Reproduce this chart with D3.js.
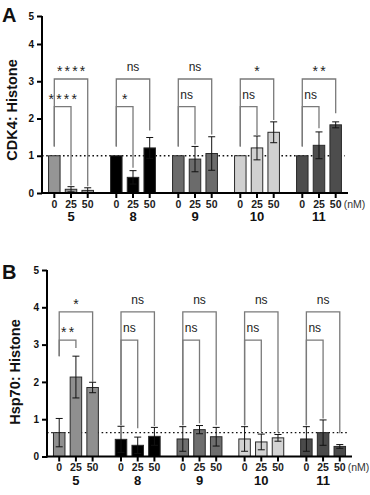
<!DOCTYPE html>
<html>
<head>
<meta charset="utf-8">
<script src="https://cdn.jsdelivr.net/npm/d3@7"></script>
<style>
	body { margin: 0; background: #fff; }
	svg { display: block; font-family: "Liberation Sans", Arial, sans-serif; }
</style>
</head>
<body>
<div id="chart"></div>
<script>
var width = 370,
	height = 495;

// categories
var groups = ["5", "8", "9", "10", "11"];
var doses = ["0", "25", "50"];
var yTicks = [0, 1, 2, 3, 4, 5];

// panel A: CDK4 / Histone (mean, error) per group x dose
var cdk4Mean = [[1, 0.10, 0.07], [1, 0.42, 1.21], [1, 0.91, 1.06], [1, 1.21, 1.63], [1, 1.28, 1.83]];
var cdk4Err = [[0, 0.07, 0.07], [0, 0.18, 0.28], [0, 0.34, 0.45], [0, 0.32, 0.28], [0, 0.36, 0.08]];
// significance: [0 vs 25, 0 vs 50]
var cdk4Sig = [["****", "****"], ["*", "ns"], ["ns", "ns"], ["ns", "*"], ["ns", "**"]];
// bracket leg ends: [0 leg, 25 leg, 50 leg]
var cdk4Legs = [[1.25, 0.2, 0.18], [1.25, 0.68, 1.68], [1.25, 1.3, 1.57], [1.25, 1.56, 1.96], [1.25, 1.74, 2.14]];
var cdk4Levels = [2.32, 3.06];
var cdk4Ref = 1;

// panel B: Hsp70 / Histone
var hspMean = [[0.64, 2.13, 1.85], [0.46, 0.30, 0.54], [0.47, 0.72, 0.53], [0.47, 0.39, 0.50], [0.47, 0.64, 0.27]];
var hspErr = [[0.38, 0.56, 0.14], [0.35, 0.22, 0.24], [0.33, 0.11, 0.25], [0.33, 0.21, 0.09], [0.33, 0.34, 0.05]];
var hspSig = [["**", "*"], ["ns", "ns"], ["ns", "ns"], ["ns", "ns"], ["ns", "ns"]];
var hspLegs = [[2.69, 2.91, 2.0], [0.84, 0.76, 0.82], [0.84, 0.89, 0.84], [0.84, 0.66, 0.64], [0.84, 1.02, 0.62]];
var hspLevels = [3.12, 3.88];
var hspRef = 0.64;

// bar colours per group
var colorsA = ["#959595", "#000000", "#6b6b6b", "#d0d0d0", "#4d4d4d"];
var colorsB = ["#8f8f8f", "#000000", "#6e6e6e", "#d3d3d3", "#4a4a4a"];

var svg = d3.select("#chart")
	.append("svg")
	.attr("width", width)
	.attr("height", height);

function drawPanel(p) {
	var g = svg.append("g");

	var y = d3.scaleLinear().domain(p.yDomain).range(p.yRange);
	var x0 = d3.scalePoint().domain(groups).range([p.left, p.right]).padding(0.468);
	var x1 = d3.scalePoint().domain(doses).range([-16.7, 16.7]);
	var bw = 11.5;

	function bx(gi, di) { return x0(groups[gi]) + x1(doses[di]); }

	// reference dotted line
	g.append("line")
		.attr("x1", p.left).attr("x2", p.right - 3)
		.attr("y1", y(p.ref)).attr("y2", y(p.ref))
		.attr("stroke", "#111").attr("stroke-width", 1.3)
		.attr("stroke-dasharray", "1.6,2.6");

	// bars
	var cells = [];
	p.mean.forEach(function(row, gi) {
		row.forEach(function(v, di) {
			cells.push({gi: gi, di: di, v: v, e: p.err[gi][di]});
		});
	});

	g.selectAll("rect.bar")
		.data(cells)
		.enter().append("rect")
		.attr("class", "bar")
		.attr("x", function(d) { return bx(d.gi, d.di) - bw / 2; })
		.attr("width", bw)
		.attr("y", function(d) { return y(d.v); })
		.attr("height", function(d) { return y(0) - y(d.v); })
		.attr("fill", function(d) { return p.colors[d.gi]; })
		.attr("stroke", "#2a2a2a")
		.attr("stroke-width", 1);

	// error bars
	var eb = g.selectAll("g.err")
		.data(cells.filter(function(d) { return d.e > 0; }))
		.enter().append("g")
		.attr("stroke", "#111").attr("stroke-width", 1);
	eb.append("line")
		.attr("x1", function(d) { return bx(d.gi, d.di); })
		.attr("x2", function(d) { return bx(d.gi, d.di); })
		.attr("y1", function(d) { return y(d.v + d.e); })
		.attr("y2", function(d) { return y(Math.max(0, d.v - d.e)); });
	[1, -1].forEach(function(s) {
		eb.append("line")
			.attr("x1", function(d) { return bx(d.gi, d.di) - 3.5; })
			.attr("x2", function(d) { return bx(d.gi, d.di) + 3.5; })
			.attr("y1", function(d) { return y(Math.max(0, d.v + s * d.e)); })
			.attr("y2", function(d) { return y(Math.max(0, d.v + s * d.e)); });
	});

	// significance brackets
	var br = [];
	p.sig.forEach(function(s, gi) {
		br.push({gi: gi, to: 1, level: p.levels[0], label: s[0], l0: p.legs[gi][0], l1: p.legs[gi][1]});
		br.push({gi: gi, to: 2, level: p.levels[1], label: s[1], l0: p.legs[gi][0], l1: p.legs[gi][2]});
	});

	g.selectAll("path.bracket")
		.data(br)
		.enter().append("path")
		.attr("class", "bracket")
		.attr("fill", "none")
		.attr("stroke", "#7a7a7a")
		.attr("stroke-width", 1.3)
		.attr("d", function(d) {
			var xa = bx(d.gi, 0), xb = bx(d.gi, d.to);
			return "M" + xa + "," + y(d.l0) + "V" + y(d.level) + "H" + xb + "V" + y(d.l1);
		});

	g.selectAll("text.sig")
		.data(br)
		.enter().append("text")
		.attr("class", "sig")
		.attr("text-anchor", "middle")
		.attr("x", function(d) {
			var c = (bx(d.gi, 0) + bx(d.gi, d.to)) / 2;
			return d.label == "ns" ? c : c + 1.2;
		})
		.attr("y", function(d) { return y(d.level) - (d.label == "ns" ? 8 : 3); })
		.attr("font-size", function(d) { return d.label == "ns" ? 12 : 14; })
		.attr("letter-spacing", function(d) { return d.label == "ns" ? 0 : 2.2; })
		.attr("fill", "#222")
		.text(function(d) { return d.label; });

	// y axis
	var yAxis = d3.axisLeft(y).tickValues(yTicks).tickSize(5).tickPadding(3).tickFormat(d3.format("d"));
	var ya = g.append("g")
		.attr("transform", "translate(" + p.left + ",0)")
		.call(yAxis);
	ya.select(".domain").attr("stroke-width", 2).attr("d", "M0," + y(5) + "V" + (y(0) + 1));
	ya.selectAll(".tick line").attr("stroke-width", 2);
	ya.selectAll(".tick text").attr("font-size", 10).attr("font-weight", "bold").attr("fill", "#111");

	// x axis line + ticks
	g.append("line")
		.attr("x1", p.left - 1).attr("x2", p.right)
		.attr("y1", y(0)).attr("y2", y(0))
		.attr("stroke", "#000").attr("stroke-width", 2);

	var ticks = [];
	groups.forEach(function(gr, gi) {
		doses.forEach(function(ds, di) { ticks.push({gi: gi, di: di}); });
	});
	g.selectAll("line.xt")
		.data(ticks)
		.enter().append("line")
		.attr("class", "xt")
		.attr("x1", function(d) { return bx(d.gi, d.di); })
		.attr("x2", function(d) { return bx(d.gi, d.di); })
		.attr("y1", y(0)).attr("y2", y(0) + 5)
		.attr("stroke", "#000").attr("stroke-width", 2);
	g.selectAll("text.xt")
		.data(ticks)
		.enter().append("text")
		.attr("class", "xt")
		.attr("text-anchor", "middle")
		.attr("x", function(d) { return bx(d.gi, d.di); })
		.attr("y", y(0) + 14.5)
		.attr("font-size", 10.5)
		.attr("font-weight", "bold")
		.attr("fill", "#222")
		.text(function(d) { return doses[d.di]; });

	g.append("text")
		.attr("x", bx(4, 2) + 8)
		.attr("y", y(0) + 14.5)
		.attr("font-size", 10.5)
		.attr("fill", "#333")
		.text("(nM)");

	g.selectAll("text.grp")
		.data(groups)
		.enter().append("text")
		.attr("class", "grp")
		.attr("text-anchor", "middle")
		.attr("x", function(d) { return x0(d); })
		.attr("y", y(0) + p.grpDy)
		.attr("font-size", 13)
		.attr("font-weight", "bold")
		.attr("fill", "#111")
		.text(function(d) { return d; });

	// y title
	g.append("text")
		.attr("transform", "translate(" + p.titleX + "," + p.titleY + ") rotate(-90)")
		.attr("text-anchor", "middle")
		.attr("dy", "0.35em")
		.attr("font-size", 14.5)
		.attr("font-weight", "bold")
		.attr("fill", "#111")
		.text(p.title);

	// panel letter
	g.append("text")
		.attr("x", 2).attr("y", p.letterY)
		.attr("font-size", 20)
		.attr("font-weight", "bold")
		.attr("fill", "#111")
		.text(p.letter);
}

drawPanel({
	mean: cdk4Mean, err: cdk4Err, sig: cdk4Sig, legs: cdk4Legs, levels: cdk4Levels, ref: cdk4Ref,
	colors: colorsA, yDomain: [0, 4, 5], yRange: [193, 44, 16],
	left: 42, right: 348, grpDy: 27.5, title: "CDK4: Histone", titleX: 12, titleY: 110,
	letter: "A", letterY: 22
});

drawPanel({
	mean: hspMean, err: hspErr, sig: hspSig, legs: hspLegs, levels: hspLevels, ref: hspRef,
	colors: colorsB, yDomain: [0, 5], yRange: [456.5, 270],
	left: 47, right: 352, grpDy: 28, title: "Hsp70: Histone", titleX: 15, titleY: 372,
	letter: "B", letterY: 279
});
</script>
</body>
</html>
